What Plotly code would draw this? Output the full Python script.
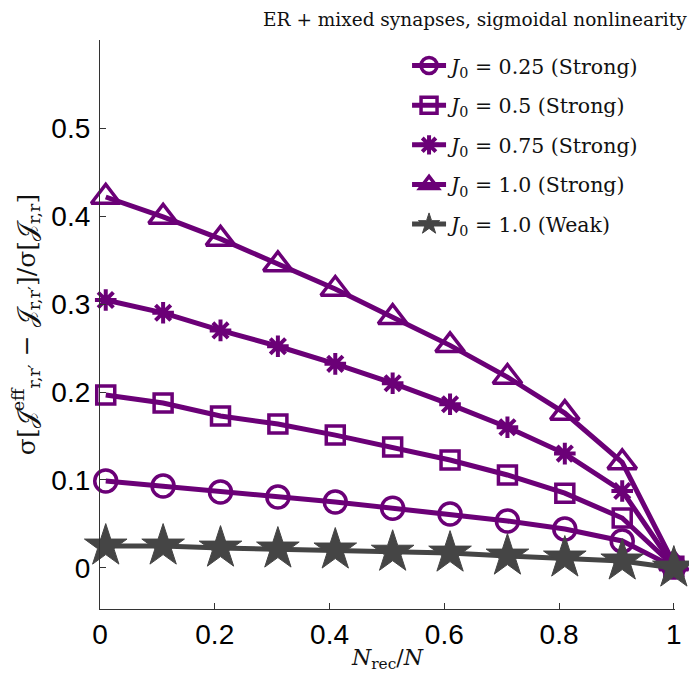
import plotly.graph_objects as go

x_frac = [0.01, 0.11, 0.21, 0.31, 0.41, 0.51, 0.61, 0.71, 0.81, 0.91, 1.0]

j025_strong = [0.0989, 0.0932, 0.0864, 0.0807, 0.075, 0.068, 0.0614, 0.0534, 0.0443, 0.0307, 0.001]
j05_strong = [0.1966, 0.1875, 0.1727, 0.1636, 0.151, 0.1375, 0.1227, 0.1057, 0.085, 0.0568, 0.002]
j075_strong = [0.3045, 0.290, 0.270, 0.252, 0.232, 0.210, 0.186, 0.160, 0.130, 0.0875, 0.002]
j10_strong = [0.4216, 0.399, 0.374, 0.345, 0.317, 0.285, 0.253, 0.217, 0.176, 0.120, 0.005]
j10_weak = [0.025, 0.025, 0.0227, 0.0216, 0.0205, 0.018, 0.017, 0.0136, 0.0114, 0.008, 0.0]

names = [
    "<i>J</i><sub>0</sub> = 0.25 (Strong)",
    "<i>J</i><sub>0</sub> = 0.5 (Strong)",
    "<i>J</i><sub>0</sub> = 0.75 (Strong)",
    "<i>J</i><sub>0</sub> = 1.0 (Strong)",
    "<i>J</i><sub>0</sub> = 1.0 (Weak)",
]

x_ticks = [0, 0.2, 0.4, 0.6, 0.8, 1]
x_tick_labels = ["0", "0.2", "0.4", "0.6", "0.8", "1"]
y_ticks = [0, 0.1, 0.2, 0.3, 0.4, 0.5]
y_tick_labels = ["0", "0.1", "0.2", "0.3", "0.4", "0.5"]

PURPLE = "#6B0077"
GRAY = "#454545"

series = [
    (j025_strong, names[0], PURPLE, "circle-open", 22, 3.5),
    (j05_strong, names[1], PURPLE, "square-open", 18, 3.5),
    (j075_strong, names[2], PURPLE, "asterisk-open", 18, 4),
    (j10_strong, names[3], PURPLE, "triangle-up-open", 25, 3.5),
    (j10_weak, names[4], GRAY, "star", 32, 1),
]

fig = go.Figure()
for i, (ys, nm, col, sym, sz, lw) in enumerate(series):
    fig.add_trace(go.Scatter(
        x=x_frac, y=ys, name=nm, mode="lines+markers",
        legendgroup="g%d" % i,
        line=dict(color=col, width=5),
        marker=dict(symbol=sym, size=sz, color=col,
                    line=dict(color=col, width=lw)),
        cliponaxis=False,
    ))

serif = "DejaVu Serif"
sans = "Liberation Sans"

# the page body adds an 8px margin; compensate in the figure size
fig.update_layout(
    width=689, height=675,
    paper_bgcolor="white", plot_bgcolor="white",
    margin=dict(l=92, r=22, t=32, b=74),
    showlegend=True,
    legend=dict(x=0.534, y=0.99, xanchor="left", yanchor="top",
                font=dict(family=serif, size=20.5, color="#111"),
                bgcolor="rgba(0,0,0,0)", itemwidth=34, tracegroupgap=10),
    title=dict(text="ER + mixed synapses, sigmoidal nonlinearity",
               x=0.985, xanchor="right", y=0.993, yanchor="top",
               font=dict(family=serif, size=18.5, color="#111")),
    xaxis=dict(range=[0, 1.002], tickvals=x_ticks, ticktext=x_tick_labels,
               ticks="inside", ticklen=6, tickcolor="#333",
               showline=True, linecolor="#333", linewidth=1.2,
               showgrid=False, zeroline=False, automargin=False,
               tickfont=dict(family=sans, size=28, color="black"),
               title=dict(text="<i>N</i><sub>rec</sub>/<i>N</i>",
                          font=dict(family=serif, size=22, color="#111"),
                          standoff=0)),
    yaxis=dict(range=[-0.0466, 0.6], tickvals=y_ticks, ticktext=y_tick_labels,
               ticks="inside", ticklen=6, tickcolor="#333",
               showline=True, linecolor="#333", linewidth=1.2,
               showgrid=False, zeroline=False, automargin=False,
               ticklabelstandoff=3,
               tickfont=dict(family=sans, size=28, color="black"),
               title=dict(text="σ[𝒥<sup>eff</sup><sub>r,r′</sub> − 𝒥<sub>r,r′</sub>]/σ[𝒥<sub>r,r</sub>]",
                          font=dict(family=serif, size=25, color="#111"),
                          standoff=10)),
)

fig.write_html("out.html")
